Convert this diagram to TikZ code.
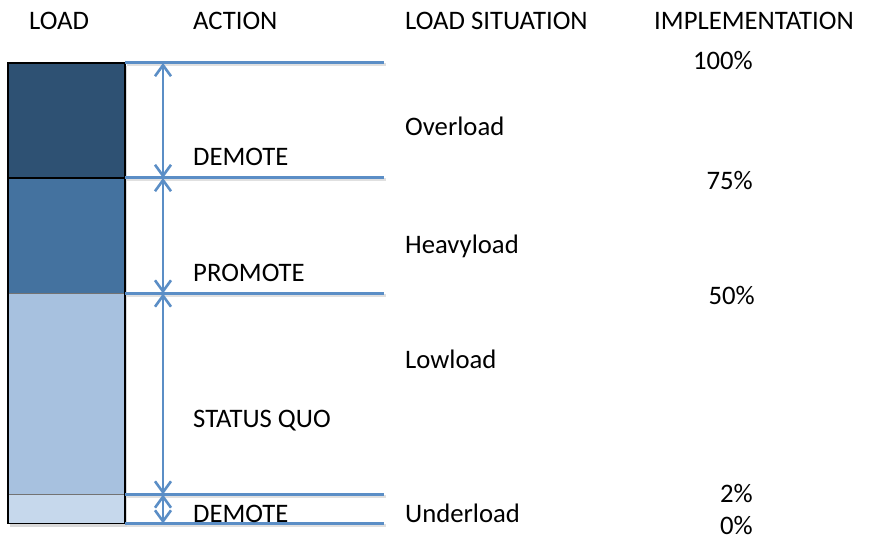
\documentclass[tikz,border=0pt]{standalone}
\usepackage{fontspec}
\setmainfont{Carlito}
\usetikzlibrary{arrows.meta}
\definecolor{cOver}{HTML}{2E5173}
\definecolor{cHeavy}{HTML}{44729F}
\definecolor{cLow}{HTML}{A7C1DF}
\definecolor{cUnder}{HTML}{C6D8EC}
\definecolor{cLine}{HTML}{5B8EC6}
\tikzset{
  lbl/.style={inner sep=0pt, anchor=base west, font=\fontsize{26.7}{32}\selectfont},
  pct/.style={inner sep=0pt, anchor=base east, font=\fontsize{26.7}{32}\selectfont},
  level/.style={draw=cLine, line width=3pt},
  shade/.style={draw=black!12, line width=3pt},
  span/.style={draw=cLine, line width=2.6pt, {Straight Barb[length=11pt,width=16pt,line width=2.6pt]}-{Straight Barb[length=11pt,width=16pt,line width=2.6pt]}},
  seg/.style={line width=1.6pt, draw=black}
}
\begin{document}
\begin{tikzpicture}[x=1pt,y=-1pt]
\useasboundingbox (0,0) rectangle (871,540);
% load bar
\fill[black!15] (10,66) rectangle (127,526.5);
\fill[cOver] (8,63) rectangle (125,178);
\fill[cHeavy] (8,178) rectangle (125,293.5);
\fill[cLow] (8,293.5) rectangle (125,494.5);
\fill[cUnder] (8,494.5) rectangle (125,523.5);
\draw[seg] (8,178) -- (125,178);
\draw[seg, draw=black!55] (8,293.5) -- (125,293.5);
\draw[seg, draw=black!55] (8,494.5) -- (125,494.5);
\draw[seg] (8,63) rectangle (125,523.5);
% level lines
\foreach \n/\y in {0/63,1/178,2/293.5,3/494.5,4/523.5}{
  \coordinate (l\n) at (125,\y);
  \coordinate (r\n) at (384,\y);
  \coordinate (a\n) at (163,\y);
  \draw[shade] ([shift={(1.5,2)}]l\n) -- ([shift={(1.5,2)}]r\n);
  \draw[level] (l\n) -- (r\n);
}
% spans
\draw[span] (a0) -- (a1);
\draw[span] (a1) -- (a2);
\draw[span] (a2) -- (a3);
\draw[span] (a3) -- (a4);
% headers
\node[lbl] (hload) at (29,29.5) {LOAD};
\node[lbl] (hact) at (193,29.5) {ACTION};
\node[lbl] (hsit) at (405,29.5) {LOAD SITUATION};
\node[lbl] (himp) at (654,29.5) {IMPLEMENTATION};
% actions
\node[lbl] (act1) at (193,166) {DEMOTE};
\node[lbl] (act2) at (193,282) {PROMOTE};
\node[lbl] (act3) at (193,427) {STATUS QUO};
\node[lbl] (act4) at (193,522) {DEMOTE};
% situations
\node[lbl] (sit1) at (405,135.5) {Overload};
\node[lbl] (sit2) at (405,253.5) {Heavyload};
\node[lbl] (sit3) at (405,368) {Lowload};
\node[lbl] (sit4) at (405,522) {Underload};
% implementation
\node[pct] (p100) at (753,70) {100\%};
\node[pct] (p75) at (753,189.5) {75\%};
\node[pct] (p50) at (755,305) {50\%};
\node[pct] (p2) at (753,502.5) {2\%};
\node[pct] (p0) at (753,534.5) {0\%};
\end{tikzpicture}
\end{document}
